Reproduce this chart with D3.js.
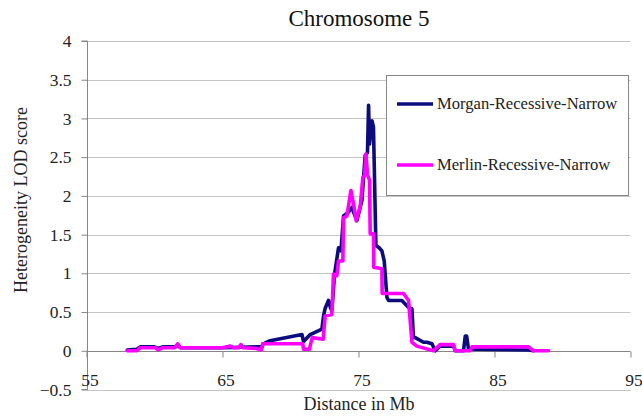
<!DOCTYPE html>
<html><head><meta charset="utf-8">
<script src="https://cdn.jsdelivr.net/npm/d3@7"></script>
<style>body{margin:0;background:#fff}svg{display:block}</style>
</head><body>
<script>
const title = "Chromosome 5";
const xTitle = "Distance in Mb";
const yTitle = "Heterogeneity LOD score";
const xTicks = [55, 65, 75, 85, 95];
const yTicks = [-0.5, 0, 0.5, 1, 1.5, 2, 2.5, 3, 3.5, 4];
const seriesNames = ["Morgan-Recessive-Narrow", "Merlin-Recessive-Narrow"];
const seriesColors = ["#0c0c7e", "#ff00ff"];

const morganX = [58.0, 58.7, 58.95, 60.0, 60.27, 60.6, 61.5, 61.7, 61.9, 65.0, 67.5, 67.9, 68.0, 68.5, 70.84, 70.96, 71.45, 72.31, 72.43, 72.55, 72.79, 72.95, 73.04, 73.24, 73.53, 73.71, 73.9, 74.26, 74.51, 74.88, 75.25, 75.49, 75.66, 75.74, 75.81, 75.99, 76.1, 76.28, 76.52, 76.72, 76.89, 77.09, 77.21, 78.19, 78.68, 78.93, 79.04, 79.17, 79.78, 80.03, 80.4, 80.64, 81.0, 81.99, 82.11, 82.72, 82.85, 82.95, 83.09, 87.5, 87.87];
const morganY = [0.01, 0.02, 0.05, 0.05, 0.03, 0.05, 0.05, 0.07, 0.04, 0.04, 0.05, 0.05, 0.09, 0.13, 0.21, 0.12, 0.21, 0.28, 0.45, 0.55, 0.65, 0.55, 0.52, 0.99, 1.33, 1.29, 1.74, 1.79, 1.85, 1.68, 1.94, 2.52, 2.56, 3.17, 2.67, 2.97, 2.89, 1.36, 1.33, 1.29, 1.16, 0.69, 0.65, 0.65, 0.56, 0.54, 0.17, 0.17, 0.11, 0.11, 0.09, 0.0, 0.06, 0.06, 0.0, 0.0, 0.19, 0.19, 0.02, 0.01, 0.0];

const merlinX = [58.0, 58.7, 58.95, 60.1, 60.27, 60.6, 61.5, 61.7, 61.9, 65.0, 65.57, 65.8, 66.2, 66.35, 66.5, 67.5, 67.85, 67.95, 70.9, 70.96, 71.4, 71.45, 71.6, 72.4, 72.55, 73.04, 73.16, 73.41, 73.53, 73.85, 73.9, 74.15, 74.44, 74.63, 74.83, 75.13, 75.32, 75.45, 75.55, 75.66, 75.81, 75.86, 76.1, 76.12, 76.72, 76.74, 78.31, 78.68, 78.93, 79.29, 80.51, 81.0, 81.99, 82.11, 83.21, 83.34, 87.5, 87.87, 88.97];
const merlinY = [0.0, 0.0, 0.04, 0.04, 0.01, 0.04, 0.04, 0.09, 0.04, 0.04, 0.06, 0.04, 0.04, 0.08, 0.04, 0.03, 0.01, 0.09, 0.09, 0.02, 0.02, 0.07, 0.17, 0.15, 0.45, 0.47, 0.99, 0.97, 1.16, 1.16, 1.72, 1.74, 2.07, 1.9, 1.68, 1.87, 2.24, 2.26, 2.54, 2.28, 2.2, 1.51, 1.51, 1.08, 1.06, 0.74, 0.74, 0.65, 0.11, 0.06, 0.0, 0.08, 0.08, 0.0, 0.0, 0.05, 0.05, 0.0, 0.0];

const W = 642, H = 416;
const FONT = "'Liberation Serif', 'DejaVu Serif', serif";
const svg = d3.select("body").append("svg").attr("width", W).attr("height", H)
  .style("font-family", FONT);

const x = d3.scaleLinear().domain([55, 95]).range([86.5, 630.5]);
const y = d3.scaleLinear().domain([-0.5, 4]).range([389.5, 41]);

// gridlines
svg.append("g").selectAll("line").data(yTicks).join("line")
  .attr("x1", x(55)).attr("x2", x(95))
  .attr("y1", d => Math.round(y(d)) + 0.5).attr("y2", d => Math.round(y(d)) + 0.5)
  .attr("stroke", d => d === 0 ? "#868686" : "#c6c6c6").attr("stroke-width", 1);

// y axis
const yAxis = d3.axisLeft(y).tickValues(yTicks).tickSize(6).tickPadding(10)
  .tickFormat(d => d3.format("")(d));
const gy = svg.append("g").attr("transform", `translate(${Math.round(x(55)) + 0.5},0)`).call(yAxis);
gy.select(".domain").attr("stroke", "#868686").attr("d", `M-6,${y(4)}H0V${y(-0.5)}H-6`);
gy.selectAll(".tick line").attr("stroke", "#868686");
gy.selectAll(".tick text").attr("font-size", 17.5).attr("fill", "#222").style("font-family", FONT);

// x axis at y=0
const xAxis = d3.axisBottom(x).tickValues(xTicks).tickSize(6).tickPadding(16);
const gx = svg.append("g").attr("transform", `translate(0,${Math.round(y(0)) + 0.5})`).call(xAxis);
gx.select(".domain").remove();
gx.selectAll(".tick line").attr("stroke", "#868686");
gx.selectAll(".tick text").attr("font-size", 17.5).attr("fill", "#222").attr("dx", 3).style("font-family", FONT);

// lines
const line = d3.line().x(d => x(d[0])).y(d => y(d[1]));
const morgan = morganX.map((v, i) => [v, morganY[i]]);
const merlin = merlinX.map((v, i) => [v, merlinY[i]]);
[[morgan, seriesColors[0]], [merlin, seriesColors[1]]].forEach(([data, c]) => {
  svg.append("path").datum(data).attr("d", line)
    .attr("fill", "none").attr("stroke", c).attr("stroke-width", 3.6)
    .attr("stroke-linejoin", "round").attr("stroke-linecap", "round");
});

// legend
const lg = svg.append("g");
lg.append("rect").attr("x", 386.5).attr("y", 75.5).attr("width", 242).attr("height", 120)
  .attr("fill", "#fff").attr("stroke", "#868686").attr("stroke-width", 1);
const ly = [104, 165];
seriesNames.forEach((n, i) => {
  lg.append("line").attr("x1", 397).attr("x2", 433).attr("y1", ly[i]).attr("y2", ly[i])
    .attr("stroke", seriesColors[i]).attr("stroke-width", 3.6);
  lg.append("text").attr("x", 437).attr("y", ly[i] + 5).attr("font-size", 16.6)
    .attr("fill", "#222").text(n);
});

// titles
svg.append("text").attr("x", 359).attr("y", 26).attr("text-anchor", "middle")
  .attr("font-size", 23).attr("fill", "#111").text(title);
svg.append("text").attr("x", 359).attr("y", 410).attr("text-anchor", "middle")
  .attr("font-size", 18).attr("fill", "#222").text(xTitle);
svg.append("text").attr("transform", "translate(27,200) rotate(-90)").attr("text-anchor", "middle")
  .attr("font-size", 18).attr("fill", "#222").text(yTitle);
</script>
</body></html>
